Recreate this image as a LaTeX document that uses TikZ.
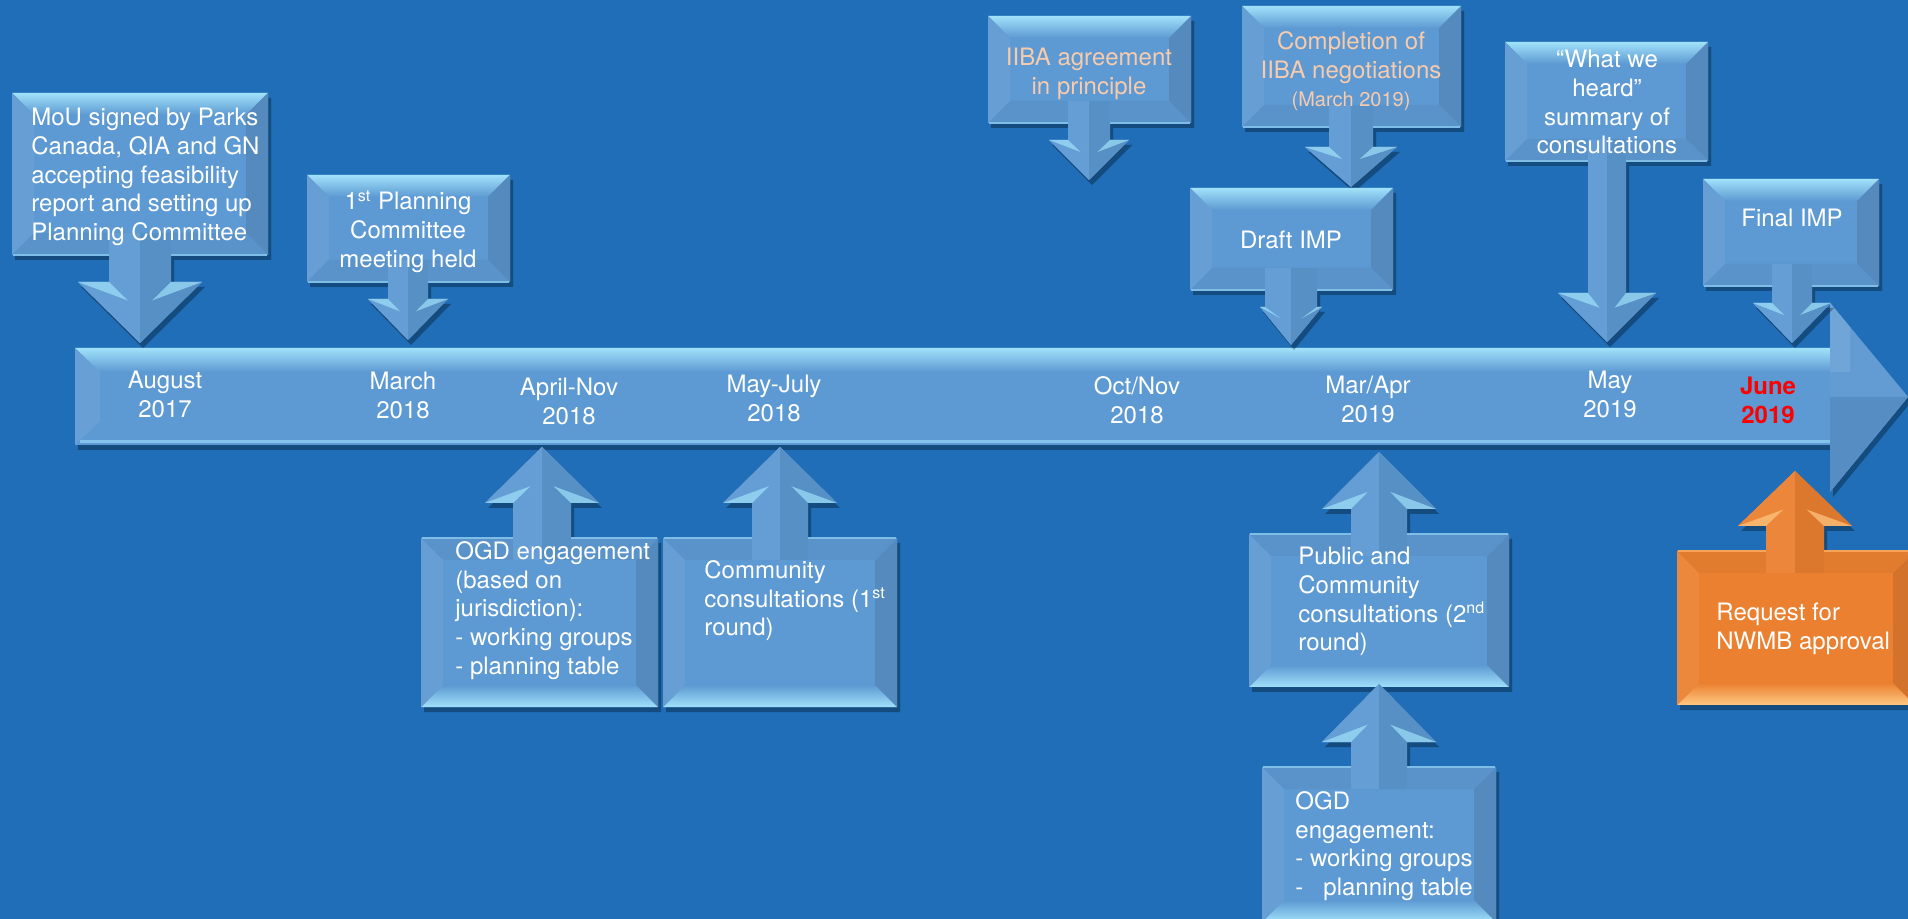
\documentclass[tikz,border=0pt]{standalone}
\usepackage{fontspec}
\setmainfont{TeX Gyre Heros}
\usepackage{xcolor}
\usepackage{tikz}

\definecolor{fond}{RGB}{31,110,183}
\definecolor{bleu}{RGB}{93,153,210}
\definecolor{bleuclair}{RGB}{160,225,250}
\definecolor{orangeb}{RGB}{234,128,48}
\definecolor{orangeclair}{RGB}{255,200,130}
\definecolor{peche}{RGB}{247,203,172}
\definecolor{rouge}{RGB}{255,0,0}
\colorlet{cbase}{bleu}
\colorlet{clight}{bleuclair}

% Boite + fleche : gauche, droite, bord cote fleche, bord oppose, x fleche,
% demi-largeur tige, demi-largeur pointe, base pointe, bout
\newcommand{\fleche}[9]{%
  \begin{scope}
    \pgfmathsetmacro{\bd}{(#3>#4)?22:-22}
    \ifdim #3pt>#4pt \tikzset{bord/.style={top color=clight,bottom color=cbase}}
    \else \tikzset{bord/.style={bottom color=clight,top color=cbase}}\fi
    \fill[cbase,ombre] (#1,#4) -- (#2,#4) -- (#2,#3) -- ({#5+#6},#3) -- ({#5+#6},#8)
      -- ({#5+#7},#8) -- (#5,#9) -- ({#5-#7},#8) -- ({#5-#6},#8) -- ({#5-#6},#3)
      -- (#1,#3) -- cycle;
    % biseaux
    \shade[bord] (#1,#4) -- (#2,#4) -- ({#2-22},{#4+\bd}) -- ({#1+22},{#4+\bd}) -- cycle;
    \fill[cbase!94!white] (#1,#4) -- ({#1+22},{#4+\bd}) -- ({#1+22},{#3-\bd}) -- (#1,#3) -- cycle;
    \fill[cbase!90!black] (#2,#4) -- ({#2-22},{#4+\bd}) -- ({#2-22},{#3-\bd}) -- (#2,#3) -- cycle;
    \fill[cbase!96!black] (#1,#3) -- ({#1+22},{#3-\bd}) -- ({#2-22},{#3-\bd}) -- (#2,#3) -- cycle;
    \draw[clight!50!cbase,line width=1pt] ({#1+1},#3) -- ({#2-1},#3);
    % tige
    \fill[cbase!95!white] ({#5-#6},{#3-\bd}) rectangle (#5,#8);
    \fill[cbase!94!black] (#5,{#3-\bd}) rectangle ({#5+#6},#8);
    % pointe
    \fill[cbase!95!white] ({#5-#7},#8) -- (#5,#9) -- (#5,#8) -- cycle;
    \fill[cbase!94!black] ({#5+#7},#8) -- (#5,#9) -- (#5,#8) -- cycle;
    \fill[clight,opacity=.7] ({#5-#7},#8) -- ({#5-#6},#8) -- ({#5-0.4*#6},{#8+0.3*(#9-#8)}) -- cycle;
    \fill[clight,opacity=.7] ({#5+#7},#8) -- ({#5+#6},#8) -- ({#5+0.4*#6},{#8+0.3*(#9-#8)}) -- cycle;
  \end{scope}}

\begin{document}
\begin{tikzpicture}[x=0.5pt,y=-0.5pt]
    % Styles
    \tikzstyle{ombre}=[preaction={fill=black,fill opacity=.3,transform canvas={xshift=1.5pt,yshift=-2.5pt}}]
    \tikzstyle{texte}=[text=white,inner sep=0pt,font=\fontsize{12}{14.35}\selectfont]
    \tikzstyle{gauche}=[texte,align=left,anchor=north west]
    \tikzstyle{centre}=[texte,align=center,anchor=north]
    \tikzstyle{iiba}=[centre,text=peche]
    \tikzstyle{date}=[centre]
    % Fond
    \fill[fond] (0,0) rectangle (1908,919);
    \useasboundingbox (0,0) rectangle (1908,919);
    % Fleche du temps
    \fill[cbase,ombre] (75,348) -- (1830,348) -- (1830,303) -- (1908,397) -- (1830,492)
      -- (1830,445) -- (75,445) -- cycle;
    \shade[top color=clight,bottom color=cbase] (75,348) -- (1830,348) -- (1830,372) -- (100,372) -- cycle;
    \fill[cbase!93!white] (75,348) -- (100,372) -- (100,421) -- (75,445) -- cycle;
    \draw[clight!60!cbase,line width=1.5pt] (80,442) -- (1830,442);
    \fill[cbase!97!white] (1830,303) -- (1908,397) -- (1830,397) -- cycle;
    \fill[cbase!93!black] (1830,397) -- (1908,397) -- (1830,492) -- cycle;
    \fill[cbase!88!white] (1830,303) -- (1850,327) -- (1850,372) -- (1830,372) -- cycle;
    \coordinate (T) at (1908,397);
    % Boites au-dessus
    \fleche{12}{268}{255}{93}{140}{31}{62}{282}{343}
    \fleche{307}{510}{282}{175}{408}{20}{40}{299}{340}
    \fleche{988}{1191}{123}{16}{1089}{21}{40}{140}{180}
    \fleche{1242}{1461}{127}{6}{1351}{22}{46}{147}{187}
    \fleche{1190}{1393}{290}{188}{1291}{26}{31}{307}{345}
    \fleche{1505}{1708}{161}{42}{1607}{19}{49}{293}{342}
    \fleche{1703}{1879}{286}{179}{1792}{20}{39}{303}{343}
    % Boites au-dessous
    \fleche{421}{658}{538}{707}{542}{29}{57}{503}{447}
    \fleche{663}{897}{538}{707}{780}{28}{57}{503}{447}
    \fleche{1249}{1509}{534}{687}{1379}{28}{57}{509}{452}
    \fleche{1262}{1496}{767}{922}{1379}{28}{57}{742}{684}
    {\colorlet{cbase}{orangeb}\colorlet{clight}{orangeclair}
    \fleche{1677}{1915}{551}{705}{1795}{29}{57}{526}{471}}
    % Dates
    \node[date] (Da) at (165,371) {August\\2017};
    \node[date] (Db) at (403,372) {March\\2018};
    \node[date] (Dc) at (569,378) {April-Nov\\2018};
    \node[date] (Dd) at (774,375) {May-July\\2018};
    \node[date] (De) at (1137,376) {Oct/Nov\\2018};
    \node[date] (Df) at (1368,376) {Mar/Apr\\2019};
    \node[date] (Dg) at (1610,371) {May\\2019};
    \node[date,text=rouge,font=\fontsize{12}{14.35}\selectfont\bfseries] (Dh) at (1768,377) {June\\2019};
    % Evenements
    \node[gauche] (Ea) at (31,108) {MoU signed by Parks\\Canada, QIA and GN\\accepting feasibility\\report and setting up\\Planning Committee};
    \node[centre] (Eb) at (408,190) {1\textsuperscript{st} Planning\\Committee\\meeting held};
    \node[iiba] (Ec) at (1089,48) {IIBA agreement\\in principle};
    \node[iiba] (Ed) at (1351,31) {Completion of\\IIBA negotiations\\{\fontsize{10}{12}\selectfont (March 2019)}};
    \node[centre] (Ee) at (1291,231) {Draft IMP};
    \node[centre] (Ef) at (1607,50) {“What we\\heard”\\summary of\\consultations};
    \node[centre] (Eg) at (1792,209) {Final IMP};
    \node[gauche] (Eh) at (455,541) {OGD engagement\\(based on\\jurisdiction):\\- working groups\\- planning table};
    \node[gauche] (Ei) at (704,560) {Community\\consultations (1\textsuperscript{st}\\round)};
    \node[gauche] (Ej) at (1298,547) {Public and\\Community\\consultations (2\textsuperscript{nd}\\round)};
    \node[gauche] (Ek) at (1295,791) {OGD\\engagement:\\- working groups\\-\ \ \ planning table};
    \node[gauche] (El) at (1716,603) {Request for\\NWMB approval};
\end{tikzpicture}
\end{document}
